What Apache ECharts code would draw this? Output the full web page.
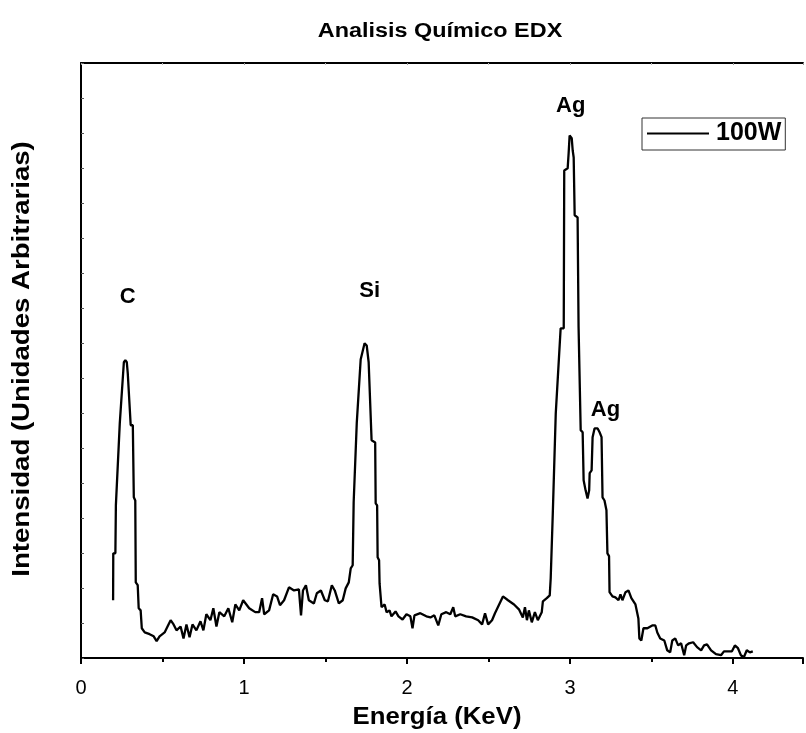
<!DOCTYPE html>
<html>
<head>
<meta charset="utf-8">
<title>Analisis Químico EDX</title>
<script src="https://cdn.jsdelivr.net/npm/echarts@6/dist/echarts.min.js"></script>
<style>
  html, body { margin: 0; padding: 0; background: #fff; }
  #chart { width: 806px; height: 733px; }
</style>
</head>
<body>
<div id="chart"></div>
<script>
// EDX spectrum, sample 100W: energy (keV) and intensity (arbitrary units)
const energy = [
  0.197, 0.198, 0.211, 0.214, 0.223, 0.238, 0.250, 0.263, 0.272, 0.281,
  0.287, 0.299, 0.305, 0.318, 0.324, 0.333, 0.336, 0.348, 0.354, 0.366,
  0.373, 0.391, 0.421, 0.446, 0.464, 0.482, 0.513, 0.531, 0.550, 0.568,
  0.586, 0.611, 0.629, 0.647, 0.666, 0.684, 0.708, 0.733, 0.751, 0.769,
  0.794, 0.812, 0.831, 0.849, 0.879, 0.904, 0.928, 0.947, 0.971, 0.995,
  1.032, 1.069, 1.093, 1.111, 1.124, 1.154, 1.179, 1.203, 1.221, 1.246,
  1.276, 1.307, 1.337, 1.350, 1.362, 1.380, 1.398, 1.429, 1.447, 1.472,
  1.496, 1.515, 1.539, 1.557, 1.582, 1.606, 1.624, 1.643, 1.655, 1.667,
  1.673, 1.685, 1.692, 1.704, 1.716, 1.728, 1.740, 1.753, 1.765, 1.777,
  1.783, 1.805, 1.808, 1.817, 1.820, 1.829, 1.832, 1.841, 1.844, 1.863, 1.875,
  1.893, 1.905, 1.930, 1.948, 1.973, 1.997, 2.021, 2.034, 2.046, 2.082,
  2.119, 2.144, 2.168, 2.192, 2.211, 2.241, 2.266, 2.284, 2.296, 2.327,
  2.363, 2.400, 2.437, 2.461, 2.479, 2.498, 2.522, 2.540, 2.589, 2.620,
  2.657, 2.687, 2.711, 2.724, 2.736, 2.748, 2.766, 2.785, 2.803, 2.827,
  2.834, 2.858, 2.876, 2.882, 2.895, 2.907, 2.913, 2.925, 2.943, 2.962,
  2.965, 2.986, 2.992, 2.998, 3.011, 3.017, 3.023, 3.029, 3.047, 3.053,
  3.063, 3.066, 3.078, 3.084, 3.096, 3.108, 3.118, 3.121, 3.133, 3.139,
  3.151, 3.170, 3.182, 3.194, 3.200, 3.212, 3.224, 3.230, 3.240,
  3.243, 3.261, 3.279, 3.298, 3.310, 3.322, 3.341, 3.359, 3.377,
  3.402, 3.420, 3.426, 3.438, 3.451, 3.475, 3.505, 3.524, 3.536, 3.554,
  3.579, 3.597, 3.615, 3.628, 3.646, 3.664, 3.682, 3.701, 3.713, 3.731,
  3.756, 3.780, 3.805, 3.823, 3.841, 3.866, 3.896, 3.927, 3.945, 3.994,
  4.012, 4.031, 4.049, 4.067, 4.085, 4.104, 4.122
];
const counts = [
  165, 299, 299, 436, 436, 671, 671, 845, 851, 845,
  813, 808, 665, 665, 459, 450, 216, 208, 142, 136,
  85, 73, 68, 62, 48, 62, 73, 90, 108, 96,
  79, 90, 56, 96, 59, 96, 79, 105, 79, 125,
  108, 142, 90, 131, 119, 142, 102, 153, 136, 165,
  142, 131, 131, 171, 125, 136, 182, 176, 151, 165,
  202, 193, 196, 122, 193, 208, 165, 156, 185, 193,
  165, 162, 208, 193, 156, 165, 199, 216, 256, 265,
  445, 445, 671, 671, 853, 853, 899, 893, 845, 842,
  622, 616, 442, 436, 288, 279, 213, 208, 145, 153, 131,
  136, 119, 133, 119, 110, 125, 119, 85, 122, 128,
  119, 116, 122, 93, 125, 131, 125, 145, 119, 125,
  119, 116, 108, 96, 128, 96, 108, 128, 176, 165,
  153, 139, 116, 145, 108, 136, 102, 131, 108, 131,
  162, 171, 179, 228, 416, 416, 699, 699, 942, 942,
  1393, 1399, 1442, 1493, 1485, 1450, 1430, 1265, 1259, 945,
  942, 651, 645, 508, 479, 456, 479, 528, 536, 631,
  656, 656, 645, 631, 459, 450, 422, 299, 291,
  188, 176, 173, 165, 182, 165, 188, 193, 171,
  153, 113, 56, 50, 85, 85, 93, 93, 73, 56,
  50, 22, 16, 50, 56, 36, 42, 8, 36, 42,
  45, 31, 22, 36, 39, 22, 11, 8, 19, 19,
  36, 28, 8, 2, 22, 16, 19
];

// Element labels placed above their emission peaks
const peakNames = ['C', 'Si', 'Ag', 'Ag'];
const peakLabelE = [0.287, 1.771, 3.005, 3.218];
const peakLabelI = [1033, 1048, 1576, 708];

const xTicks = [0, 1, 2, 3, 4];

const FONT = '"Liberation Sans", Arial, Helvetica, sans-serif';

const chart = echarts.init(document.getElementById('chart'), null, { renderer: 'canvas' });

const spectrum = energy.map((e, i) => [e, counts[i]]);

chart.setOption({
  backgroundColor: '#ffffff',
  animation: false,
  textStyle: { fontFamily: FONT, color: '#000' },
  grid: { left: 81, top: 63, bottom: 75, right: 0, containLabel: false },
  legend: {
    data: ['100W'],
    left: 642,
    top: 118,
    orient: 'horizontal',
    icon: 'rect',
    itemWidth: 62,
    itemHeight: 2,
    itemGap: 6,
    padding: [3, 4, 4, 5],
    borderColor: '#333',
    borderWidth: 1,
    backgroundColor: '#fff',
    textStyle: { fontFamily: FONT, fontSize: 25, fontWeight: 'bold', color: '#000', padding: [0, 0, 0, 2] }
  },
  graphic: [
    {
      type: 'text', x: 440, y: 31, scaleX: 1.17,
      style: { text: 'Analisis Químico EDX', font: 'bold 20px ' + FONT, fill: '#000', align: 'center', verticalAlign: 'middle' }
    },
    {
      type: 'text', x: 437, y: 718, scaleX: 1.12,
      style: { text: 'Energía (KeV)', font: 'bold 23px ' + FONT, fill: '#000', align: 'center', verticalAlign: 'middle' }
    },
    {
      type: 'text', x: 23, y: 359, rotation: Math.PI / 2, scaleX: 1.2,
      style: { text: 'Intensidad (Unidades Arbitrarias)', font: 'bold 23px ' + FONT, fill: '#000', align: 'center', verticalAlign: 'middle' }
    }
  ],
  xAxis: [
    {
      type: 'value',
      min: 0,
      max: 4.43,
      interval: 1,
      position: 'bottom',
      axisLine: { show: true, onZero: false, lineStyle: { color: '#000', width: 2 } },
      axisTick: { show: true, inside: false, length: 6, lineStyle: { color: '#000', width: 2 } },
      minorTick: { show: true, splitNumber: 2, length: 4, lineStyle: { color: '#000', width: 2 } },
      splitLine: { show: false },
      axisLabel: {
        show: true, margin: 20, fontSize: 20, color: '#000', fontFamily: FONT,
        formatter: v => (xTicks.indexOf(v) >= 0 ? String(v) : '')
      }
    },
    {
      type: 'value',
      min: 0,
      max: 4.43,
      interval: 1,
      position: 'top',
      axisLine: { show: true, onZero: false, lineStyle: { color: '#000', width: 2 } },
      axisTick: { show: true, inside: true, length: 2, lineStyle: { color: '#999', width: 1 } },
      minorTick: { show: true, splitNumber: 2, length: 2, lineStyle: { color: '#bbb', width: 1 } },
      axisLabel: { show: false },
      splitLine: { show: false }
    }
  ],
  yAxis: [
    {
      type: 'value',
      min: 0,
      max: 1700,
      interval: 100,
      axisLine: { show: true, onZero: false, lineStyle: { color: '#000', width: 2 } },
      axisTick: { show: true, inside: true, length: 3, lineStyle: { color: '#555', width: 1 } },
      axisLabel: { show: false },
      splitLine: { show: false }
    }
  ],
  series: [
    {
      name: '100W',
      type: 'line',
      xAxisIndex: 0,
      yAxisIndex: 0,
      data: spectrum,
      showSymbol: false,
      symbol: 'none',
      lineStyle: { color: '#000', width: 2.3 },
      itemStyle: { color: '#000' },
      clip: true,
      markPoint: {
        symbol: 'circle',
        symbolSize: 0,
        silent: true,
        label: {
          show: true, position: 'inside', color: '#000',
          fontFamily: FONT, fontSize: 22, fontWeight: 'bold',
          formatter: p => p.name
        },
        data: peakNames.map((n, i) => ({ name: n, coord: [peakLabelE[i], peakLabelI[i]] }))
      }
    }
  ]
});
</script>
</body>
</html>
